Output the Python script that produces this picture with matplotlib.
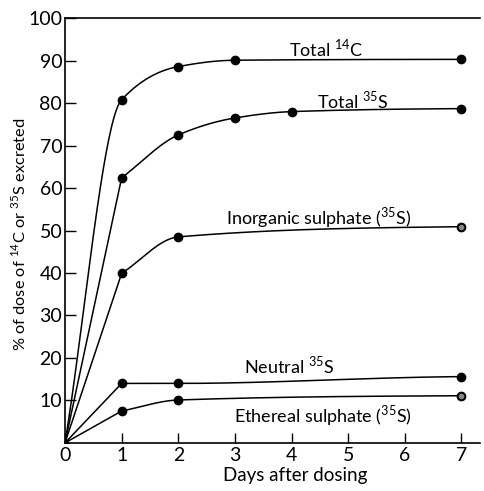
import numpy as np
import matplotlib
matplotlib.use("Agg")
import matplotlib.pyplot as plt

plt.rcParams['font.family'] = ['Lato', 'DejaVu Sans']
plt.rcParams['mathtext.fontset'] = 'custom'
plt.rcParams['mathtext.rm'] = 'Lato'

# data (days, % excreted)
days_14c = [0, 1, 2, 3, 7]
total_14c = [0, 80.8, 88.6, 90.1, 90.3]

days_35s = [0, 1, 2, 3, 4, 7]
total_35s = [0, 62.4, 72.5, 76.5, 78.0, 78.7]

days_inorg = [0, 1, 2, 7]
inorganic = [0, 39.9, 48.5, 50.9]

days_neut = [0, 1, 2, 7]
neutral = [0, 14.0, 14.0, 15.6]

days_eth = [0, 1, 2, 7]
ethereal = [0, 7.5, 10.1, 11.1]

labels = ['Total $^{14}$C', 'Total $^{35}$S', 'Inorganic sulphate ($^{35}$S)',
          'Neutral $^{35}$S', 'Ethereal sulphate ($^{35}$S)']
label_pos = [(4.6, 92.9), (5.08, 80.8), (4.48, 53.0), (3.96, 18.2), (4.55, 6.5)]

x_ticks = [0, 1, 2, 3, 4, 5, 6, 7]
y_ticks = [10, 20, 30, 40, 50, 60, 70, 80, 90, 100]


def pchip(x, y, n=300):
    # monotone cubic hermite, used only to draw the smooth hand-drawn curves
    x = np.asarray(x, float)
    y = np.asarray(y, float)
    h = np.diff(x)
    d = np.diff(y) / h
    m = np.zeros_like(y)
    for k in range(1, len(x) - 1):
        if d[k - 1] * d[k] <= 0:
            m[k] = 0
        else:
            w1 = 2 * h[k] + h[k - 1]
            w2 = h[k] + 2 * h[k - 1]
            m[k] = (w1 + w2) / (w1 / d[k - 1] + w2 / d[k])
    m[0] = d[0]
    m[-1] = d[-1] * 0.3
    xs = np.linspace(x[0], x[-1], n)
    idx = np.clip(np.searchsorted(x, xs) - 1, 0, len(h) - 1)
    t = (xs - x[idx]) / h[idx]
    h00 = 2 * t**3 - 3 * t**2 + 1
    h10 = t**3 - 2 * t**2 + t
    h01 = -2 * t**3 + 3 * t**2
    h11 = t**3 - t**2
    ys = h00 * y[idx] + h10 * h[idx] * m[idx] + h01 * y[idx + 1] + h11 * h[idx] * m[idx + 1]
    return xs, ys


def curve(x, y, straight_start):
    if not straight_start:
        return pchip(x, y)
    xs, ys = pchip(x[1:], y[1:])
    return np.concatenate([[x[0]], xs]), np.concatenate([[y[0]], ys])


fig = plt.figure(figsize=(4.85, 4.91), dpi=100)
ax = fig.add_axes([0.134, 0.098, 0.856, 0.865])

series = [
    (days_14c, total_14c, False, False),
    (days_35s, total_35s, False, True),
    (days_inorg, inorganic, True, True),
    (days_neut, neutral, False, True),
    (days_eth, ethereal, True, True),
]

for (xd, yd, open_end, straight), lab, pos in zip(series, labels, label_pos):
    xs, ys = curve(xd, yd, straight)
    ax.plot(xs, ys, color='black', lw=1.1)
    ax.plot(xd[1:-1], yd[1:-1], 'o', color='black', ms=6)
    ax.plot(xd[0], yd[0], 'o', color='black', ms=4)
    if open_end:
        ax.plot(xd[-1], yd[-1], 'o', mfc='#888888', mec='black', mew=1.5, ms=5.5)
    else:
        ax.plot(xd[-1], yd[-1], 'o', color='black', ms=6)
    ax.text(pos[0], pos[1], lab, ha='center', va='center', fontsize=13)

ax.set_xlim(0, 7.33)
ax.set_ylim(0, 100)
ax.set_xticks(x_ticks)
ax.set_xticklabels([str(v) for v in x_ticks], fontsize=14)
ax.set_yticks(y_ticks)
ax.set_yticklabels([str(v) for v in y_ticks], fontsize=14)
ax.tick_params(direction='in', length=8, width=1, pad=2)
ax.tick_params(axis='x', length=7, pad=3)
ax.spines['right'].set_visible(False)
for s in ['left', 'bottom', 'top']:
    ax.spines[s].set_linewidth(1.2)

ax.set_xlabel('Days after dosing', fontsize=13.5)
ax.xaxis.set_label_coords(0.554, -0.057)
ax.set_ylabel('% of dose of $^{14}$C or $^{35}$S excreted', fontsize=11.8)
ax.yaxis.set_label_coords(-0.088, 0.49)

fig.savefig('out.png', dpi=100)
